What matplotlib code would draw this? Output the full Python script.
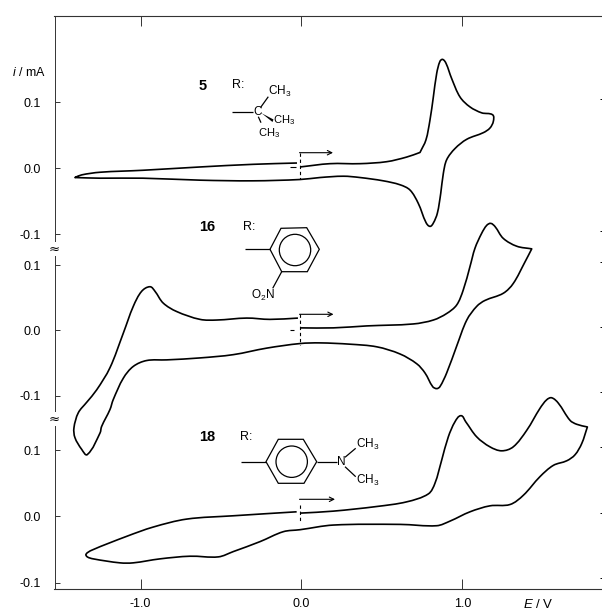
import matplotlib
matplotlib.use("Agg")
import matplotlib.pyplot as plt
import numpy as np
from matplotlib.patches import Circle, Polygon, PathPatch
from matplotlib.path import Path

plt.rcParams['font.family'] = ['Liberation Sans', 'DejaVu Sans']
plt.rcParams['mathtext.fontset'] = 'custom'
plt.rcParams['mathtext.rm'] = 'Liberation Sans'
plt.rcParams['mathtext.it'] = 'Liberation Sans:italic'
plt.rcParams['mathtext.bf'] = 'Liberation Sans:bold'

# curve 5
e5 = [-0.009, 0.177, 0.364, 0.530, 0.654, 0.737, 0.774, 0.799, 0.820, 0.841, 0.861, 0.878, 0.899, 0.934,
      0.986, 1.048, 1.121, 1.189, 1.193, 1.172, 1.131, 1.028, 0.955, 0.903, 0.882, 0.866, 0.845, 0.820,
      0.799, 0.774, 0.726, 0.675, 0.613, 0.509, 0.364, 0.260, 0.115, -0.009, -0.302, -0.631, -0.986,
      -1.253, -1.409, -1.367, -1.253, -0.986, -0.631, -0.302, -0.028]
i5 = [0.002, 0.007, 0.007, 0.010, 0.017, 0.024, 0.043, 0.073, 0.108, 0.144, 0.162, 0.165, 0.159, 0.136,
      0.108, 0.093, 0.084, 0.081, 0.071, 0.061, 0.054, 0.044, 0.030, 0.013, -0.008, -0.038, -0.068, -0.083,
      -0.088, -0.082, -0.053, -0.033, -0.025, -0.019, -0.014, -0.012, -0.014, -0.017, -0.019, -0.018, -0.015,
      -0.015, -0.014, -0.010, -0.006, -0.003, 0.002, 0.006, 0.008]

# curve 16
e16 = [-0.009, 0.198, 0.406, 0.695, 0.820, 0.903, 0.965, 1.006, 1.048, 1.079, 1.121, 1.152, 1.177, 1.204,
       1.255, 1.339, 1.432, 1.390, 1.317, 1.255, 1.141, 1.090, 1.028, 0.965, 0.903, 0.861, 0.841, 0.816,
       0.768, 0.717, 0.613, 0.468, 0.302, 0.115, -0.009, -0.216, -0.424, -0.631, -0.838, -0.963, -1.046,
       -1.108, -1.171, -1.191, -1.243, -1.253, -1.332, -1.367, -1.409, -1.415, -1.388, -1.336, -1.274,
       -1.191, -1.108, -1.046, -0.994, -0.942, -0.911, -0.860, -0.776, -0.631, -0.527, -0.341, -0.196, -0.022]
i16 = [0.004, 0.004, 0.007, 0.010, 0.016, 0.026, 0.039, 0.062, 0.098, 0.126, 0.149, 0.161, 0.164, 0.159,
       0.141, 0.129, 0.125, 0.105, 0.072, 0.057, 0.046, 0.037, 0.016, -0.024, -0.065, -0.086, -0.089, -0.086,
       -0.065, -0.051, -0.036, -0.025, -0.021, -0.019, -0.020, -0.027, -0.037, -0.042, -0.045, -0.046, -0.055,
       -0.073, -0.106, -0.121, -0.147, -0.157, -0.190, -0.182, -0.164, -0.149, -0.126, -0.110, -0.091,
       -0.057, -0.004, 0.037, 0.060, 0.067, 0.060, 0.042, 0.029, 0.017, 0.016, 0.019, 0.017, 0.019]

# curve 18
e18 = [-0.009, 0.198, 0.468, 0.654, 0.789, 0.830, 0.872, 0.913, 0.955, 0.992, 1.021, 1.090, 1.172, 1.245,
       1.317, 1.401, 1.483, 1.525, 1.556, 1.597, 1.670, 1.712, 1.778, 1.743, 1.701, 1.650, 1.566, 1.483,
       1.380, 1.297, 1.172, 1.048, 0.924, 0.841, 0.613, 0.198, -0.009, -0.113, -0.258, -0.424, -0.517,
       -0.694, -0.880, -1.046, -1.129, -1.295, -1.332, -1.340, -1.305, -1.087, -0.922, -0.714, -0.424, -0.030]
i18 = [0.005, 0.008, 0.015, 0.022, 0.034, 0.050, 0.085, 0.120, 0.143, 0.152, 0.143, 0.120, 0.105, 0.099,
       0.105, 0.130, 0.163, 0.176, 0.179, 0.171, 0.145, 0.139, 0.135, 0.110, 0.093, 0.084, 0.077, 0.060,
       0.032, 0.018, 0.016, 0.007, -0.007, -0.014, -0.012, -0.013, -0.020, -0.023, -0.038, -0.053, -0.061,
       -0.060, -0.064, -0.070, -0.070, -0.064, -0.061, -0.057, -0.051, -0.030, -0.016, -0.004, 0.001, 0.007]

x_ticks = [-1.0, 0.0, 1.0]
y_ticks = [-0.1, 0.0, 0.1]
W, H = 602, 613
AX_COL = '#333333'
E_LIM = (-1.536, 1.900)


def box(px_top, px_bottom):
    # pixel rows to figure coordinates
    return [54.5 / W, 1 - px_bottom / H, (607 - 54.5) / W, (px_bottom - px_top) / H]


def smooth_path(e, i, corners):
    # bezier through the read points, i scaled so both axes count about the same per pixel
    pts = np.column_stack([np.array(e), np.array(i) * 4.1])
    verts = [pts[0]]
    n = len(pts)
    tang = np.zeros_like(pts)
    for k in range(n):
        d = pts[min(k + 1, n - 1)] - pts[max(k - 1, 0)]
        tang[k] = d / np.linalg.norm(d)
    for k in range(n - 1):
        d = np.linalg.norm(pts[k + 1] - pts[k])
        t0 = (pts[k + 1] - pts[k]) / d if k in corners else tang[k]
        t1 = (pts[k + 1] - pts[k]) / d if k + 1 in corners else tang[k + 1]
        verts += [pts[k] + t0 * d / 3, pts[k + 1] - t1 * d / 3, pts[k + 1]]
    verts = np.array(verts)
    verts[:, 1] /= 4.1
    codes = [Path.MOVETO] + [Path.CURVE4] * (len(verts) - 1)
    return Path(verts, codes)


def panel(px_top, px_bottom, ylim, e, i, corners):
    ax = fig.add_axes(box(px_top, px_bottom), facecolor='none')
    ax.add_patch(PathPatch(smooth_path(e, i, corners), fill=False, ec='black', lw=1.2, clip_on=False,
                           joinstyle='round'))
    ax.set_xlim(*E_LIM)
    ax.set_ylim(*ylim)
    ax.set_xticks([])
    ax.set_yticks(y_ticks, ['-0.1', '0.0', '0.1'])
    ax.tick_params(axis='y', direction='in', length=3.6, width=0.7, color=AX_COL, pad=9.7, labelsize=9)
    for s in ['top', 'bottom', 'right']:
        ax.spines[s].set_visible(False)
    ax.spines['left'].set_linewidth(0.7)
    ax.spines['left'].set_color(AX_COL)
    return ax


fig = plt.figure(figsize=(W / 100, H / 100), dpi=100, facecolor='white')

# frame with the potential axis
frame = fig.add_axes(box(16, 588.5), facecolor='none')
frame.set_xlim(*E_LIM)
frame.set_yticks([])
frame.set_xticks(x_ticks, ['-1.0', '0.0', '1.0'])
frame.tick_params(axis='x', direction='in', length=7.2, width=0.7, color=AX_COL, pad=6.5, labelsize=9,
                  top=True, bottom=True)
for s in ['left', 'right']:
    frame.spines[s].set_visible(False)
for s in ['top', 'bottom']:
    frame.spines[s].set_linewidth(0.8)
    frame.spines[s].set_color(AX_COL)

panel(16, 248, (-0.1208, 0.2308), e5, i5, [5, int(np.argmin(e5))])
panel(248, 418, (-0.1340, 0.1263), e16, i16, [int(np.argmax(e16))])
panel(418, 588.5, (-0.1087, 0.1485), e18, i18, [int(np.argmax(e18))])

# overlay in pixels for labels, arrows and the structures
ov = fig.add_axes([0, 0, 1, 1], facecolor='none')
ov.set_xlim(0, W)
ov.set_ylim(H, 0)
ov.axis('off')


def seg(x0, y0, x1, y1, lw=0.9, **kw):
    ov.plot([x0, x1], [y0, y1], color='black', lw=lw, solid_capstyle='butt', **kw)


def label(x, y, s, size=8.5, **kw):
    ov.text(x, y, s, fontsize=size, ha=kw.pop('ha', 'left'), va='center', **kw)


def ring(pts, cx, cy):
    ov.add_patch(Polygon(pts, closed=True, fill=False, ec='black', lw=0.9))
    ov.add_patch(Circle((cx, cy), 15.7, fill=False, ec='black', lw=0.9))


label(11.5, 73, r'$\mathit{i}$ / mA', size=9)
label(523, 605, r'$\mathit{E}$ / V', size=9.5)

# axis breaks
for yb in [249, 419]:
    ov.text(54, yb, '≈', fontsize=9.5, ha='center', va='center', family=['DejaVu Sans'],
            bbox=dict(fc='white', ec='none', pad=0.2))

# right hand ticks, the scan is slightly tilted
for yt in [99, 230.6, 261.7, 327, 392, 447.3, 513.3, 578.3]:
    seg(600, yt, 602, yt, lw=0.7)

# scan direction arrows and start markers
for ya, xe in [(152.7, 333), (314.3, 333.5), (499.3, 335)]:
    ov.annotate('', xy=(xe, ya), xytext=(299.5, ya),
                arrowprops=dict(arrowstyle='->', lw=0.8, color='black', shrinkA=0, shrinkB=0, mutation_scale=8))
for y0, y1 in [(153, 179), (314, 345), (505, 523)]:
    ov.plot([299.5, 299.5], [y0, y1], color='black', lw=0.8, dashes=(3, 2.5))
seg(290, 166.7, 296, 166.7, lw=0.8)
seg(290, 329.7, 294, 329.7, lw=0.8)

# 5
label(202.7, 85.7, '5', size=10.5, ha='center', weight='bold')
label(231.7, 85, 'R:', size=9)
seg(232.3, 111.7, 253.3, 111.7)
label(253.5, 111.7, 'C')
seg(260.7, 107.3, 268.3, 96.7)
seg(258.3, 116.7, 261, 122.7)
ov.add_patch(Polygon([(261.7, 113.3), (273.5, 119.5), (272.5, 122)], closed=True, fc='black', ec='none'))
label(267.7, 91.7, 'CH$_3$')
label(273.3, 120.5, 'CH$_3$', size=8)
label(258.3, 133.5, 'CH$_3$', size=8)

# 16
label(207.3, 227.3, '16', size=10.5, ha='center', weight='bold')
label(243.3, 226.7, 'R:', size=9)
ring([(270, 249.3), (281, 228.3), (306.7, 227.7), (319.3, 249.3), (307.3, 271.7), (281.7, 271.7)], 295, 250)
seg(245, 249.3, 270, 249.3)
seg(281.7, 271.7, 272.7, 288.3)
label(251, 295, 'O$_2$N')

# 18
label(207.3, 437.3, '18', size=10.5, ha='center', weight='bold')
label(240, 436.7, 'R:', size=9)
ring([(266, 461.7), (278.3, 439.3), (303.3, 439.3), (316.7, 461.7), (304, 483.3), (278.3, 483.3)], 291.7, 461.7)
seg(241, 461.7, 266, 461.7)
seg(316.7, 461.7, 336.7, 461.7)
label(341.7, 461.7, 'N', ha='center')
seg(345, 457.3, 355.7, 448.3)
seg(345, 466.7, 355.7, 476.7)
label(355.7, 444, 'CH$_3$')
label(355.7, 480, 'CH$_3$')

fig.savefig('out.png', dpi=100, facecolor='white')
